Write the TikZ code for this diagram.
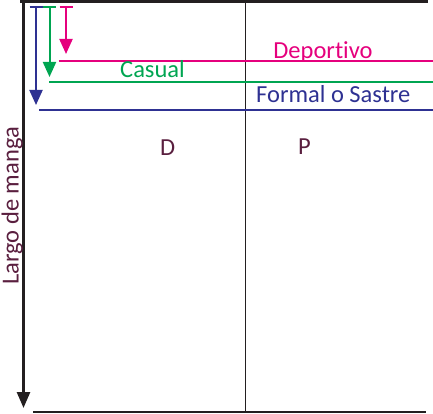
\documentclass[tikz,border=0pt]{standalone}
\usepackage{fontspec}
\setmainfont{Carlito}[Ligatures=NoCommon]
\usetikzlibrary{arrows.meta}
\definecolor{cpink}{HTML}{E5007D}
\definecolor{cgreen}{HTML}{00A551}
\definecolor{cblue}{HTML}{2E3192}
\definecolor{cmaroon}{HTML}{5A1F3F}
\definecolor{cblack}{HTML}{231F20}
\begin{document}
\begin{tikzpicture}[x=1pt,y=-1pt,
  lbl/.style={font=\fontsize{24.5}{28}\selectfont,inner sep=0pt},
  mainline/.style={cblack,line width=2.6pt},
  catline/.style={line width=2pt},
  catarrow/.style={line width=2pt,{Bar[width=13pt]}-{Triangle[length=15pt,width=13pt]}},
  bigarrow/.style={cblack,line width=2.6pt,-{Triangle[length=16pt,width=13pt]}}]
\useasboundingbox (0,0) rectangle (433,414);
% frame coordinates
\coordinate (tl) at (20,1.3);
\coordinate (tr) at (428,1.3);
\coordinate (ax0) at (23.5,0);
\coordinate (ax1) at (23.5,408);
\coordinate (bl) at (33,412);
\coordinate (br) at (426,412);
\coordinate (m0) at (245,0);
\coordinate (m1) at (245,412);
% category coordinates
\coordinate (b0) at (36,5.7);
\coordinate (b1) at (36,105);
\coordinate (bl0) at (39,110);
\coordinate (bl1) at (433,110);
\coordinate (g0) at (49.5,5.7);
\coordinate (g1) at (49.5,77);
\coordinate (gl0) at (49,82);
\coordinate (gl1) at (433,82);
\coordinate (p0) at (66,5.7);
\coordinate (p1) at (66,54);
\coordinate (pl0) at (58.5,61.5);
\coordinate (pl1) at (433,61.5);
% lines
\draw[cblack,line width=1pt] (m0) -- (m1);
\draw[mainline] (tl) -- (tr);
\draw[mainline] (bl) -- (br);
\draw[bigarrow] (ax0) -- (ax1);
\draw[catline,cpink] (pl0) -- (pl1);
\draw[catline,cgreen] (gl0) -- (gl1);
\draw[catline,cblue] (bl0) -- (bl1);
\draw[catarrow,cblue] (b0) -- (b1);
\draw[catarrow,cgreen] (g0) -- (g1);
\draw[catarrow,cpink] (p0) -- (p1);
% labels
\node[lbl,cpink,anchor=base] (dep) at (323,59) {Deportivo};
\node[lbl,cgreen,anchor=base west] (cas) at (120,77.5) {Casual};
\node[lbl,cblue,anchor=base west] (for) at (256,103) {Formal o Sastre};
\node[lbl,cmaroon,anchor=base west] (d) at (160,156) {D};
\node[lbl,cmaroon,anchor=base west] (p) at (298,154) {P};
\node[lbl,cmaroon,rotate=90,anchor=base west] (largo) at (18.5,285) {Largo de manga};
\end{tikzpicture}
\end{document}
